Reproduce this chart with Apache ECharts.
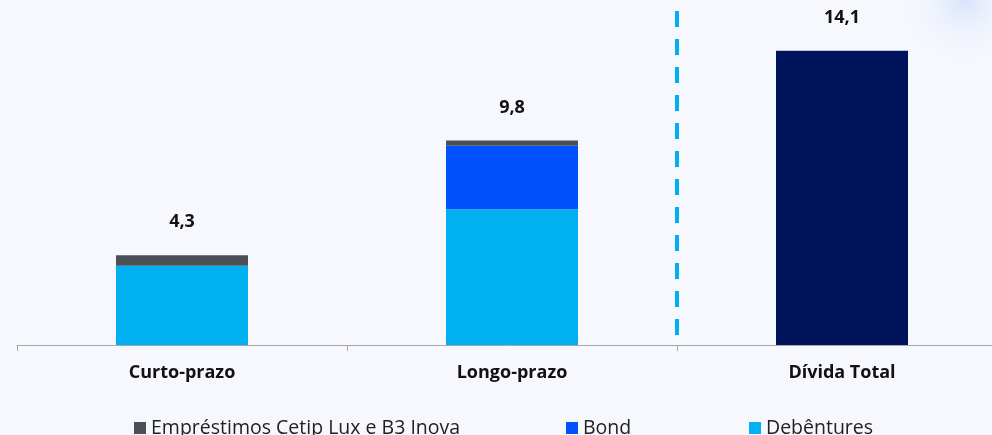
<!DOCTYPE html>
<html><head><meta charset="utf-8">
<script src="https://cdn.jsdelivr.net/npm/echarts@6/dist/echarts.min.js"></script>
<style>html,body{margin:0;padding:0;background:#f7f8fd;}#c{width:992px;height:435px;}</style>
</head><body><div id="c"></div>
<script>
const categories = ['Curto-prazo', 'Longo-prazo', 'Dívida Total'];
const emprestimos = [0.5, 0.25, null];
const bond = [null, 3.05, null];
const debentures = [3.8, 6.5, null];
const dividaTotal = [null, null, 14.1];
const totals = [4.3, 9.8, 14.1];
const totalLabels = ['4,3', '9,8', '14,1'];
const separatorAt = 2; // boundary between Longo-prazo and Dívida Total

const chart = echarts.init(document.getElementById('c'));
const F = '"Open Sans", Lato, sans-serif';
chart.setOption({
  backgroundColor: '#f7f8fd',
  animation: false,
  graphic: [{
    type: 'circle', shape: {cx: 965, cy: 0, r: 70}, silent: true, z: -1,
    style: {fill: {type: 'radial', x: 0.5, y: 0.5, r: 0.5,
      colorStops: [{offset: 0, color: 'rgba(205,222,252,0.75)'}, {offset: 1, color: 'rgba(247,248,253,0)'}]}}
  }],
  grid: {left: 17, right: -15, top: 11, bottom: 90, outerBoundsMode: 'none', containLabel: false},
  legend: [
    {data: ['Empréstimos Cetip Lux e B3 Inova'], left: 129, top: 413},
    {data: ['Bond'], left: 561, top: 413},
    {data: ['Debêntures'], left: 744, top: 413}
  ].map(l => Object.assign(l, {itemWidth: 12, itemHeight: 12, itemGap: 5, icon: 'rect',
    textStyle: {fontFamily: F, fontSize: 19.5, color: '#222'}})),
  xAxis: [{
    type: 'category', data: categories,
    axisLine: {lineStyle: {color: '#a6a6a6', width: 1}},
    axisTick: {show: true, length: 6, lineStyle: {color: '#a6a6a6'}},
    axisLabel: {fontFamily: F, fontSize: 18, fontWeight: 'bold', color: '#111', margin: 19}
  }, {
    type: 'value', min: 0, max: 3, show: false
  }],
  yAxis: {type: 'value', min: 0, max: 16, show: false, splitLine: {show: false}},
  series: [
    {name: 'Debêntures', type: 'bar', stack: 's', data: debentures, barWidth: 132, itemStyle: {color: '#00b0f0'}},
    {name: 'Bond', type: 'bar', stack: 's', data: bond, itemStyle: {color: '#0050fc'}},
    {name: 'Empréstimos Cetip Lux e B3 Inova', type: 'bar', stack: 's', data: emprestimos, itemStyle: {color: '#4b5055'}},
    {name: 'Dívida Total', type: 'bar', stack: 's', data: dividaTotal, itemStyle: {color: '#00145c'}},
    {name: 'labels', type: 'bar', stack: 's', data: totals.map(() => 0), itemStyle: {color: 'transparent'},
      label: {show: true, position: 'top', distance: 24, fontFamily: F, fontSize: 18, fontWeight: 'bold', color: '#111',
        formatter: p => totalLabels[p.dataIndex]}},
    {name: 'sep', type: 'line', xAxisIndex: 1, data: [[separatorAt, 16], [separatorAt, 0]], symbol: 'none',
      lineStyle: {color: '#00b0f0', width: 4, type: [16, 12]}, silent: true}
  ]
});
</script></body></html>
